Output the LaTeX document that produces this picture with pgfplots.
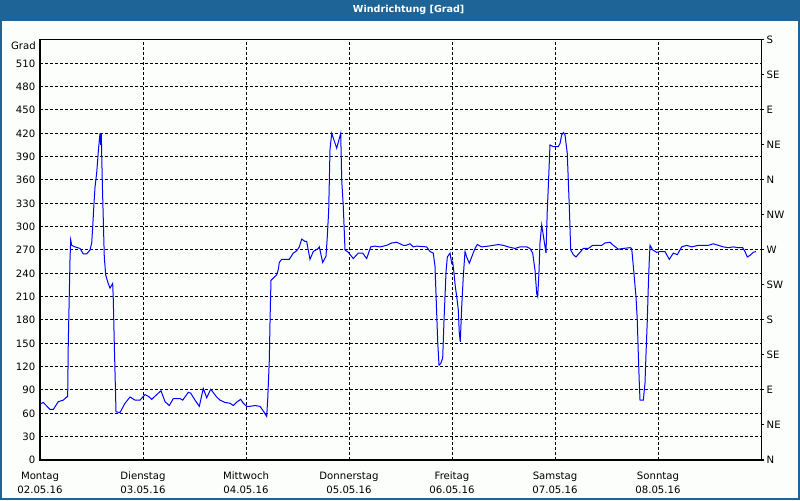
\documentclass[border=0pt]{standalone}
\usepackage{pgfplots}
\pgfplotsset{compat=1.18}
\usepackage{fontspec}
\setmainfont{DejaVu Sans}
\definecolor{barblue}{RGB}{30,100,150}
\definecolor{bgc}{RGB}{252,254,252}
\newcommand\lbl{\fontsize{7.2}{10.5}\selectfont}
\newcommand\tkl{\fontsize{7.6}{10.5}\selectfont}
\begin{document}
\begin{tikzpicture}[x=1pt,y=1pt]
% frame of the window, 800x500 px at 0.75pt per px
\fill[bgc] (0,0) rectangle (600,375);
\fill[barblue] (0,359.5) rectangle (600,375);
\node[white, font=\bfseries\lbl] at (306.5,367.5) {Windrichtung [Grad]};

\begin{axis}[
  at={(30pt,30pt)}, anchor=south west, scale only axis,
  width=540.75pt, height=315pt,
  xmin=0, xmax=168, ymin=0, ymax=540,
  xtick={0,24,...,144},
  xticklabels={{Montag\\02.05.16},{Dienstag\\03.05.16},{Mittwoch\\04.05.16},{Donnerstag\\05.05.16},{Freitag\\06.05.16},{Samstag\\07.05.16},{Sonntag\\08.05.16}},
  xticklabel style={align=center, font=\tkl, yshift=-5.5pt},
  ytick={0,30,...,510},
  yticklabel style={font=\tkl},
  /pgf/number format/assume math mode=true,
  major tick length=0pt,
  grid=major,
  grid style={black, line width=0.75pt, dash pattern=on 2.25pt off 1.5pt},
  axis line style={black, line width=0.75pt},
  clip=false,
]
\addplot[color=blue, line width=0.75pt] coordinates {
(0,72)(0.77,74)(2.33,65)(3.10,65)(4.26,75)(5.43,77)(6.22,81)(6.45,81)(6.59,150)(6.99,257)(7.15,283)(7.39,276)(8.16,274)(9.32,272)(10.09,265)(10.88,265)(11.65,270)(12.05,279)(12.28,300)(12.58,330)(12.82,351)(13.21,369)(13.58,396)(13.82,411)(13.98,420)(14.14,405)(14.28,420)(14.52,356)(14.75,309)(14.98,261)(15.31,238)(15.77,229)(16.31,221)(16.94,227)(17.08,206)(17.31,150)(17.71,62)(18.64,61)(19.81,73)(20.97,81)(22.14,77)(23.30,77)(24.47,84)(25.24,82)(26.03,78)(27.19,84)(28.19,89)(29.13,75)(30.13,70)(31.06,79)(32.62,79)(33.25,77)(34.56,87)(35.11,86)(36.12,77)(37.12,69)(38.05,92)(38.84,80)(39.78,91)(41.17,81)(41.94,77)(43.11,74)(44.27,73)(45.04,70)(45.97,75)(46.77,78)(47.37,73)(48.16,69)(48.93,69)(50.10,70)(51.26,69)(52.03,63)(52.82,56)(53.06,78)(53.43,128)(53.59,176)(53.82,231)(54.36,234)(55.15,238)(55.53,245)(55.76,254)(56.32,258)(58.09,258)(59.02,266)(59.81,269)(60.42,274)(60.98,284)(61.75,281)(62.14,281)(62.91,258)(63.68,268)(64.85,272)(65.08,274)(65.87,254)(66.64,262)(66.94,287)(67.27,321)(67.57,399)(67.97,420)(69.13,401)(70.07,420)(70.30,360)(70.67,326)(71.07,270)(71.84,267)(73.00,259)(74.17,266)(75.19,266)(76.12,259)(77.05,274)(78.06,275)(79.22,274)(80.78,276)(81.95,279)(83.11,280)(83.88,278)(84.65,276)(85.28,276)(86.21,278)(86.98,274)(87.77,275)(90.10,274)(90.87,268)(91.64,266)(92.04,249)(92.27,214)(92.43,189)(92.67,152)(92.97,122)(93.37,124)(93.83,131)(94.14,180)(94.37,210)(94.61,242)(94.91,261)(95.54,266)(95.93,253)(96.16,255)(96.47,240)(96.77,223)(97.10,210)(97.47,193)(97.70,163)(97.93,152)(98.26,197)(98.63,236)(99.03,268)(99.42,261)(100.03,253)(100.59,261)(101.36,272)(101.90,277)(102.92,274)(104.46,275)(106.79,277)(107.95,276)(109.12,274)(110.68,272)(111.84,274)(113.41,274)(114.17,272)(114.80,266)(115.34,244)(115.74,214)(115.97,210)(116.27,242)(116.50,279)(116.90,302)(117.27,289)(117.90,266)(118.20,321)(118.44,351)(118.83,405)(119.60,403)(120.77,403)(121.17,407)(121.56,418)(121.94,421)(122.33,418)(122.86,394)(123.33,326)(123.66,270)(124.27,264)(124.89,261)(125.66,266)(126.59,272)(127.76,272)(128.78,276)(130.49,276)(130.88,276)(131.65,279)(132.82,280)(133.59,276)(134.75,271)(135.91,272)(137.48,273)(137.87,272)(138.25,249)(138.87,210)(139.17,180)(139.41,137)(139.64,99)(139.81,77)(140.58,77)(140.97,99)(141.21,137)(141.51,180)(141.74,223)(141.97,257)(142.14,276)(142.77,270)(143.70,267)(144.47,268)(145.63,268)(146.63,258)(147.57,266)(148.50,264)(149.52,274)(150.69,276)(151.85,274)(153.39,276)(154.56,276)(155.72,276)(156.88,278)(158.05,276)(159.21,274)(160.37,273)(161.54,274)(162.70,273)(163.72,273)(164.27,268)(164.80,261)(165.42,263)(166.19,267)(166.82,268)
};
\node[anchor=east, font=\tkl, inner sep=0pt] at (axis cs:0,540) [xshift=-3pt, yshift=-4.3pt] {Grad};
\end{axis}

\begin{axis}[
  at={(30pt,30pt)}, anchor=south west, scale only axis,
  width=540.75pt, height=315pt,
  xmin=0, xmax=168, ymin=0, ymax=540,
  axis x line=none, axis y line*=right,
  ytick={0,45,...,540},
  yticklabels={N,NE,E,SE,S,SW,W,NW,N,NE,E,SE,S},
  yticklabel style={font=\tkl, xshift=-1.5pt},
  tick align=outside, major tick length=2.25pt,
  ytick style={black, line width=0.75pt},
  axis line style={black, line width=0.75pt},
]
\end{axis}
\draw[barblue, line width=1.5pt] (0.75,0.75) rectangle (599.25,374.25);
\pgfresetboundingbox
\useasboundingbox (0,0) rectangle (600,375);
\end{tikzpicture}
\end{document}
